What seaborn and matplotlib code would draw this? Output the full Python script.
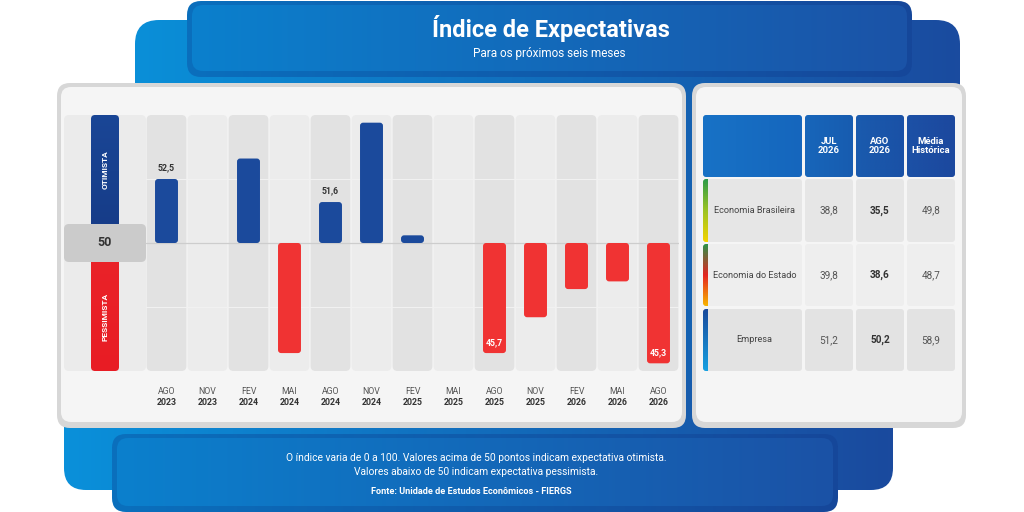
import numpy as np
import pandas as pd
import seaborn as sns
import matplotlib.pyplot as plt
from matplotlib.patches import FancyBboxPatch
from matplotlib.colors import LinearSegmentedColormap

# dados do gráfico
meses = ['AGO', 'NOV', 'FEV', 'MAI', 'AGO', 'NOV', 'FEV', 'MAI', 'AGO', 'NOV', 'FEV', 'MAI', 'AGO']
anos = ['2023', '2023', '2024', '2024', '2024', '2024', '2025', '2025', '2025', '2025', '2026', '2026', '2026']
indice = [52.5, 50.0, 53.3, 45.7, 51.6, 54.7, 50.3, 50.0, 45.7, 47.1, 48.2, 48.5, 45.3]

# tabela
tab_linhas = ['Economia Brasileira', 'Economia do Estado', 'Empresa']
tab_colunas = ['JUL\n2026', 'AGO\n2026', 'Média\nHistórica']
jul_2026 = [38.8, 39.8, 51.2]
ago_2026 = [35.5, 38.6, 50.2]
media_hist = [49.8, 48.7, 58.9]

titulo = 'Índice de Expectativas'
subtitulo = 'Para os próximos seis meses'
rodape = ['O índice varia de 0 a 100. Valores acima de 50 pontos indicam expectativa otimista.',
          'Valores abaixo de 50 indicam expectativa pessimista.']
fonte = 'Fonte: Unidade de Estudos Econômicos - FIERGS'


def fmt(v):
    return f'{v:.1f}'.replace('.', ',')


def rbox(ax, x, y, w, h, r, fc, z, ec='none', lw=0, asp=1.0):
    p = FancyBboxPatch((x, y), w, h, boxstyle=f'round,pad=0,rounding_size={r}',
                       fc=fc, ec=ec, lw=lw, zorder=z, mutation_aspect=asp)
    ax.add_patch(p)
    return p


def gbox(ax, x, y, w, h, r, cores, z, vertical=False, clip=None):
    p = clip if clip is not None else rbox(ax, x, y, w, h, r, 'none', z)
    g = np.linspace(0, 1, 256)
    g = g[:, None] if vertical else g[None, :]
    cmap = LinearSegmentedColormap.from_list('g', cores)
    im = ax.imshow(g, cmap=cmap, extent=(x, x + w, y + h, y), aspect='auto',
                   zorder=z, interpolation='bilinear')
    im.set_clip_path(p)
    return p


sns.set_style('white')
plt.rcParams['font.family'] = ['Roboto', 'DejaVu Sans']

fig = plt.figure(figsize=(10.24, 5.12), dpi=100)
fig.patch.set_facecolor('white')

bg = fig.add_axes([0, 0, 1, 1])
bg.set_autoscale_on(False)
bg.set_xlim(0, 1024)
bg.set_ylim(512, 0)
bg.axis('off')

# formas azuis de fundo
gbox(bg, 135, 20, 825, 400, 24, ['#0a8fd8', '#1a4b9f'], 1)
gbox(bg, 64, 380, 829, 110, 22, ['#0a90da', '#1a4a9e'], 1)

# caixa do título
gbox(bg, 187, 1, 725, 76, 14, ['#0a6fbd', '#16479a'], 2)
gbox(bg, 192, 5, 715, 66, 11, ['#0b80cd', '#1b53a7'], 2.5)
bg.text(551, 29, titulo, color='white', fontsize=17, weight='bold', ha='center', va='center', zorder=10)
bg.text(549, 53, subtitulo, color='white', fontsize=8.5, ha='center', va='center', zorder=10)

# caixa do rodapé
gbox(bg, 112, 434, 726, 78, 14, ['#0a70bd', '#16479a'], 2)
gbox(bg, 117, 438, 716, 68, 11, ['#0b80cd', '#1b52a6'], 2.5)
bg.text(476, 458, rodape[0], color='white', fontsize=7.4, ha='center', va='center', zorder=10)
bg.text(476, 472, rodape[1], color='white', fontsize=7.4, ha='center', va='center', zorder=10)
bg.text(471, 491, fonte, color='white', fontsize=6.6, weight='bold', ha='center', va='center', zorder=10)

# painéis
for x0, x1 in [(57, 686), (692, 966)]:
    rbox(bg, x0, 83, x1 - x0, 345, 13, '#d7d7d7', 3)
    rbox(bg, x0 + 4, 87, x1 - x0 - 8, 335, 10, '#f5f5f5', 3.2)

# coluna de legenda otimista / pessimista
rbox(bg, 64, 115, 82, 256, 5, '#ebebeb', 4)
gbox(bg, 91, 115, 28, 113, 4, ['#1a4696', '#163c88'], 4.5, vertical=True)
gbox(bg, 91, 258, 28, 113, 4, ['#ea2329', '#e81c24'], 4.5, vertical=True)
bg.text(105, 170, 'OTIMISTA', color='white', fontsize=6, weight='bold', rotation=90,
        ha='center', va='center', zorder=6)
bg.text(105, 317, 'PESSIMISTA', color='white', fontsize=6, weight='bold', rotation=90,
        ha='center', va='center', zorder=6)
rbox(bg, 64, 224, 82, 38, 5, '#cbcbcb', 6)
bg.text(105, 243, '50', color='#333333', fontsize=9, weight='bold', ha='center', va='center', zorder=7)

# gráfico de barras
ax = fig.add_axes([146 / 1024, (512 - 371) / 512, 533 / 1024, 256 / 512], zorder=5)
ax.patch.set_alpha(0)

df = pd.DataFrame({
    'periodo': [f'{m}\n{a}' for m, a in zip(meses, anos)],
    'delta': [v - 50 for v in indice],
    'tipo': ['otimista' if v >= 50 else 'pessimista' for v in indice],
})
sns.barplot(data=df, x='periodo', y='delta', hue='tipo',
            palette={'otimista': '#1b4a9c', 'pessimista': '#f03333'},
            saturation=1, dodge=False, width=0.56, legend=False, ax=ax)

asp = (533 / 13) / 25.6
barras = list(ax.patches)
for b in barras:
    h = b.get_height()
    b.set_visible(False)
    if abs(h) < 1e-6:
        continue
    y0 = min(b.get_y(), b.get_y() + h)
    rbox(ax, b.get_x(), y0, b.get_width(), abs(h), 0.075, b.get_facecolor(), 3, asp=asp)

for i in range(len(meses)):
    cor = '#e2e2e2' if i % 2 == 0 else '#ececec'
    rbox(ax, i - 0.485, -5, 0.97, 10, 0.12, cor, 0, asp=asp)
    ax.text(i, -5.82, meses[i], ha='center', va='center', fontsize=6.3, color='#555555', clip_on=False)
    ax.text(i, -6.22, anos[i], ha='center', va='center', fontsize=6.3, color='#333333',
            weight='bold', clip_on=False)

ax.axhline(2.5, color='#f2f2f2', lw=0.7, zorder=1)
ax.axhline(-2.5, color='#f2f2f2', lw=0.7, zorder=1)
ax.axhline(0, color='#cdcdcd', lw=0.9, zorder=1)

for i, v in enumerate(indice):
    if meses[i] != 'AGO':
        continue
    d = v - 50
    if d > 0:
        ax.text(i, d + 0.43, fmt(v), ha='center', va='center', fontsize=6.3,
                color='#333333', weight='bold', zorder=4)
    else:
        ax.text(i, d + 0.4, fmt(v), ha='center', va='center', fontsize=6.3,
                color='white', weight='bold', zorder=4)

ax.set_xlim(-0.5, 12.5)
ax.set_ylim(-5, 5)
ax.axis('off')

# tabela à direita
col_x = [703, 805, 856, 907]
col_w = [99, 48, 48, 48]
lin_y = [179, 244, 309]
lin_h = [63, 62, 62]
cores_cab = [['#1872c6', '#1566bd'], ['#1766ba', '#185cb0'], ['#1a5bae', '#1a51a6'], ['#1c51a6', '#1c489e']]
cores_lin = ['#e6e6e6', '#eeeeee', '#e3e3e3']
faixas = [['#2b9a48', '#9cc424', '#f4d300'],
          ['#2a9248', '#e52521', '#f7b500'],
          ['#1a4a9c', '#16a1e2']]

for j in range(4):
    gbox(bg, col_x[j], 115, col_w[j], 62, 3, cores_cab[j], 5)
for j, nome in enumerate(tab_colunas):
    bg.text(col_x[j + 1] + col_w[j + 1] / 2, 146, nome, color='white', fontsize=6.8, weight='bold',
            ha='center', va='center', linespacing=1.05, zorder=7)

valores = [jul_2026, ago_2026, media_hist]
for i, nome in enumerate(tab_linhas):
    cel = rbox(bg, col_x[0], lin_y[i], col_w[0], lin_h[i], 3, cores_lin[i], 5)
    gbox(bg, col_x[0], lin_y[i], 5, lin_h[i], 0, faixas[i], 5.5, vertical=True, clip=cel)
    bg.text(col_x[0] + col_w[0] / 2 + 2, lin_y[i] + lin_h[i] / 2, nome, color='#444444', fontsize=6.6,
            ha='center', va='center', zorder=7)
    for j in range(3):
        rbox(bg, col_x[j + 1], lin_y[i], col_w[j + 1], lin_h[i], 3, cores_lin[i], 5)
        bg.text(col_x[j + 1] + col_w[j + 1] / 2, lin_y[i] + lin_h[i] / 2, fmt(valores[j][i]),
                color='#333333' if j == 1 else '#555555', fontsize=7.2,
                weight='bold' if j == 1 else 'normal', ha='center', va='center', zorder=7)

fig.savefig('out.png', dpi=100, facecolor='white')
